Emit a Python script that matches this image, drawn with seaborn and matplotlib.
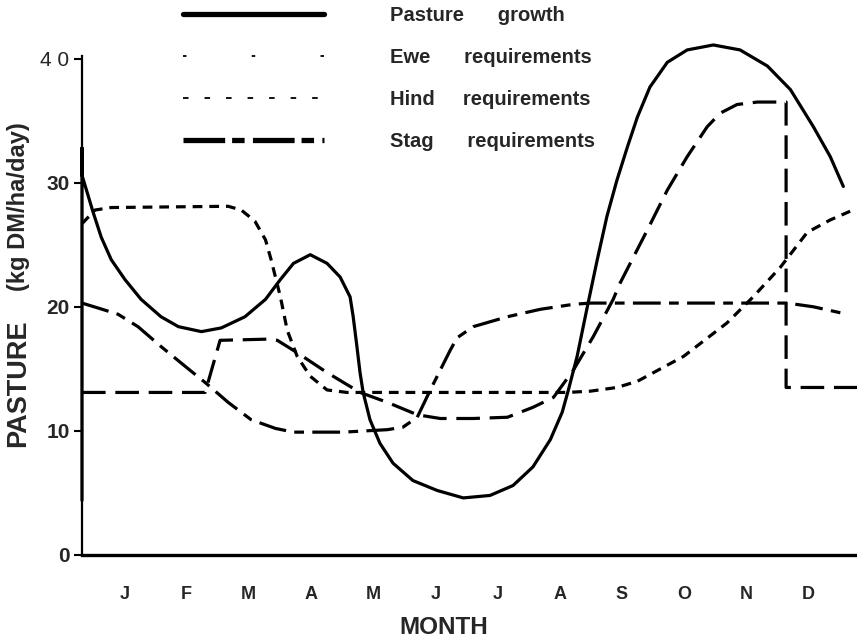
import matplotlib
matplotlib.use("Agg")
import matplotlib.pyplot as plt
import seaborn as sns
import pandas as pd
from matplotlib.lines import Line2D

# ---------------- data ----------------
months = ["J", "F", "M", "A", "M", "J", "J", "A", "S", "O", "N", "D"]
yticks = [0, 10, 20, 30, 40]
ytick_labels = ["0", "10", "20", "30", "4 0"]

pasture_x = [-0.18, -0.18, -0.18, 0.00, 0.13, 0.29, 0.51, 0.77, 1.09, 1.37, 1.74, 2.06,
             2.44, 2.77, 3.01, 3.22, 3.49, 3.76, 3.97, 4.13, 4.18, 4.24, 4.29, 4.34,
             4.45, 4.61, 4.82, 5.14, 5.53, 5.95, 6.38, 6.75, 7.07, 7.35, 7.54, 7.64,
             7.78, 7.94, 8.10, 8.26, 8.42, 8.59, 8.75, 8.95, 9.23, 9.55, 9.97, 10.40,
             10.84, 11.21, 11.58, 11.85, 12.06]
pasture_y = [4.4, 32.8, 30.6, 27.6, 25.6, 23.8, 22.2, 20.6, 19.2, 18.4, 18.0, 18.3,
             19.2, 20.6, 22.2, 23.5, 24.2, 23.5, 22.4, 20.8, 19.2, 16.8, 14.7, 13.1,
             10.9, 9.0, 7.4, 6.0, 5.2, 4.6, 4.8, 5.6, 7.1, 9.3, 11.5, 13.3,
             16.0, 19.9, 23.7, 27.3, 30.2, 32.9, 35.3, 37.7, 39.7, 40.7, 41.1, 40.7,
             39.4, 37.5, 34.5, 32.1, 29.7]

ewe_x = [-0.18, 1.80, 2.04, 2.85, 2.96, 3.28, 3.76, 4.29, 4.73, 5.21, 5.58, 6.11,
         6.66, 7.07, 7.40, 7.72, 8.04, 8.36, 8.47, 8.91, 9.23, 9.55, 9.87, 10.08,
         10.35, 10.68, 11.14, 11.14, 12.28]
ewe_y = [13.1, 13.1, 17.3, 17.4, 17.3, 16.3, 14.7, 13.1, 12.3, 11.3, 11.0, 11.0,
         11.1, 11.9, 12.7, 14.9, 17.6, 20.6, 21.9, 26.2, 29.4, 32.1, 34.5, 35.6,
         36.3, 36.5, 36.5, 13.5, 13.5]

hind_x = [-0.18, 0.03, 0.29, 2.17, 2.38, 2.60, 2.77, 2.86, 2.94, 3.01, 3.12, 3.28,
          3.49, 3.76, 4.08, 7.62, 7.99, 8.42, 8.75, 9.49, 10.19, 10.61, 11.05, 11.48,
          11.85, 12.17]
hind_y = [26.7, 27.8, 28.0, 28.1, 27.8, 26.9, 25.4, 23.8, 22.2, 20.8, 18.1, 16.0,
          14.4, 13.3, 13.1, 13.1, 13.2, 13.5, 14.0, 16.0, 18.7, 20.8, 23.2, 26.0,
          27.0, 27.7]

stag_x = [-0.18, 0.08, 0.40, 0.72, 1.09, 1.48, 1.80, 2.17, 2.54, 2.93, 3.22, 4.02,
          4.73, 4.98, 5.21, 5.42, 5.58, 5.74, 5.85, 6.11, 6.66, 7.19, 7.72, 7.99,
          11.16, 11.58, 12.12]
stag_y = [20.3, 19.9, 19.4, 18.4, 16.8, 15.2, 13.9, 12.3, 10.9, 10.2, 9.9, 9.9,
          10.1, 10.3, 11.1, 13.3, 14.9, 16.5, 17.5, 18.4, 19.2, 19.8, 20.2, 20.3,
          20.3, 20.0, 19.4]

series_names = ["Pasture      growth", "Ewe      requirements",
                "Hind     requirements", "Stag      requirements"]

# ---------------- style ----------------
sns.set_theme(style="ticks")
plt.rcParams["font.family"] = ["Liberation Sans", "DejaVu Sans"]
plt.rcParams["lines.scale_dashes"] = False

W, H = 857, 639
fig = plt.figure(figsize=(W / 100, H / 100), dpi=100)
ax = fig.add_axes([82 / W, 84 / H, (W - 82) / W, (555 - 40) / H])

lw = 2.3
styles = [
    dict(linestyle="-"),
    dict(linestyle=(0, (17, 7))),
    dict(linestyle=(0, (7, 5))),
    dict(linestyle=(0, (20, 6, 7, 6))),
]
xs = [pasture_x, ewe_x, hind_x, stag_x]
ys = [pasture_y, ewe_y, hind_y, stag_y]
for name, x, y, st in zip(series_names, xs, ys, styles):
    df = pd.DataFrame({"x": x, "y": y})
    sns.lineplot(data=df, x="x", y="y", ax=ax, estimator=None, sort=False,
                 color="black", linewidth=lw, clip_on=False,
                 solid_joinstyle="round", dash_joinstyle="round", **st)

ax.set_xlim(-0.18, 12.28)
ax.set_ylim(0, 41.5)
ax.set_xticks([i + 0.5 for i in range(12)])
ax.set_xticklabels(months, fontsize=13, fontweight="bold")
ax.tick_params(axis="x", length=0, pad=22)
ax.set_yticks(yticks)
ax.set_yticklabels(ytick_labels, fontsize=15, fontweight="bold")
ax.get_yticklabels()[-1].set_fontweight("normal")
ax.tick_params(axis="y", length=6, width=1.5, pad=3, color="black")
for side in ["top", "right"]:
    ax.spines[side].set_visible(False)
ax.spines["left"].set_bounds(0, 40.2)
ax.spines["left"].set_linewidth(1.6)
ax.spines["bottom"].set_linewidth(2.4)
ax.spines["left"].set_color("black")
ax.spines["bottom"].set_color("black")
ax.set_xlabel("")
ax.set_ylabel("")

fig.text(444 / W, 1 - 628 / H, "MONTH", fontsize=17.5, fontweight="bold",
         ha="center", va="center")
fig.text(18 / W, 1 - 383 / H, "PASTURE", fontsize=19.5, fontweight="bold",
         rotation=90, ha="center", va="center")
fig.text(19 / W, 1 - 207 / H, "(kg DM/ha/day)", fontsize=17, fontweight="bold",
         rotation=90, ha="center", va="center")

# legend
handles = [
    Line2D([], [], color="black", linewidth=3.8, linestyle="-"),
    Line2D([], [], color="black", linewidth=1.3, linestyle=(0, (2.5, 47))),
    Line2D([], [], color="black", linewidth=1.3, linestyle=(0, (4, 11.5))),
    Line2D([], [], color="black", linewidth=3.8, linestyle=(0, (30, 5, 9, 6))),
]
fig.legend(handles, series_names, loc="upper left",
           bbox_to_anchor=(183 / W, 1 - 6 / H), frameon=False,
           prop=dict(family=["Liberation Sans", "DejaVu Sans"], weight="bold", size=14.5),
           handlelength=7.0, handletextpad=3.3, labelspacing=1.15, borderpad=0,
           borderaxespad=0)

fig.savefig("out.png", dpi=100)
